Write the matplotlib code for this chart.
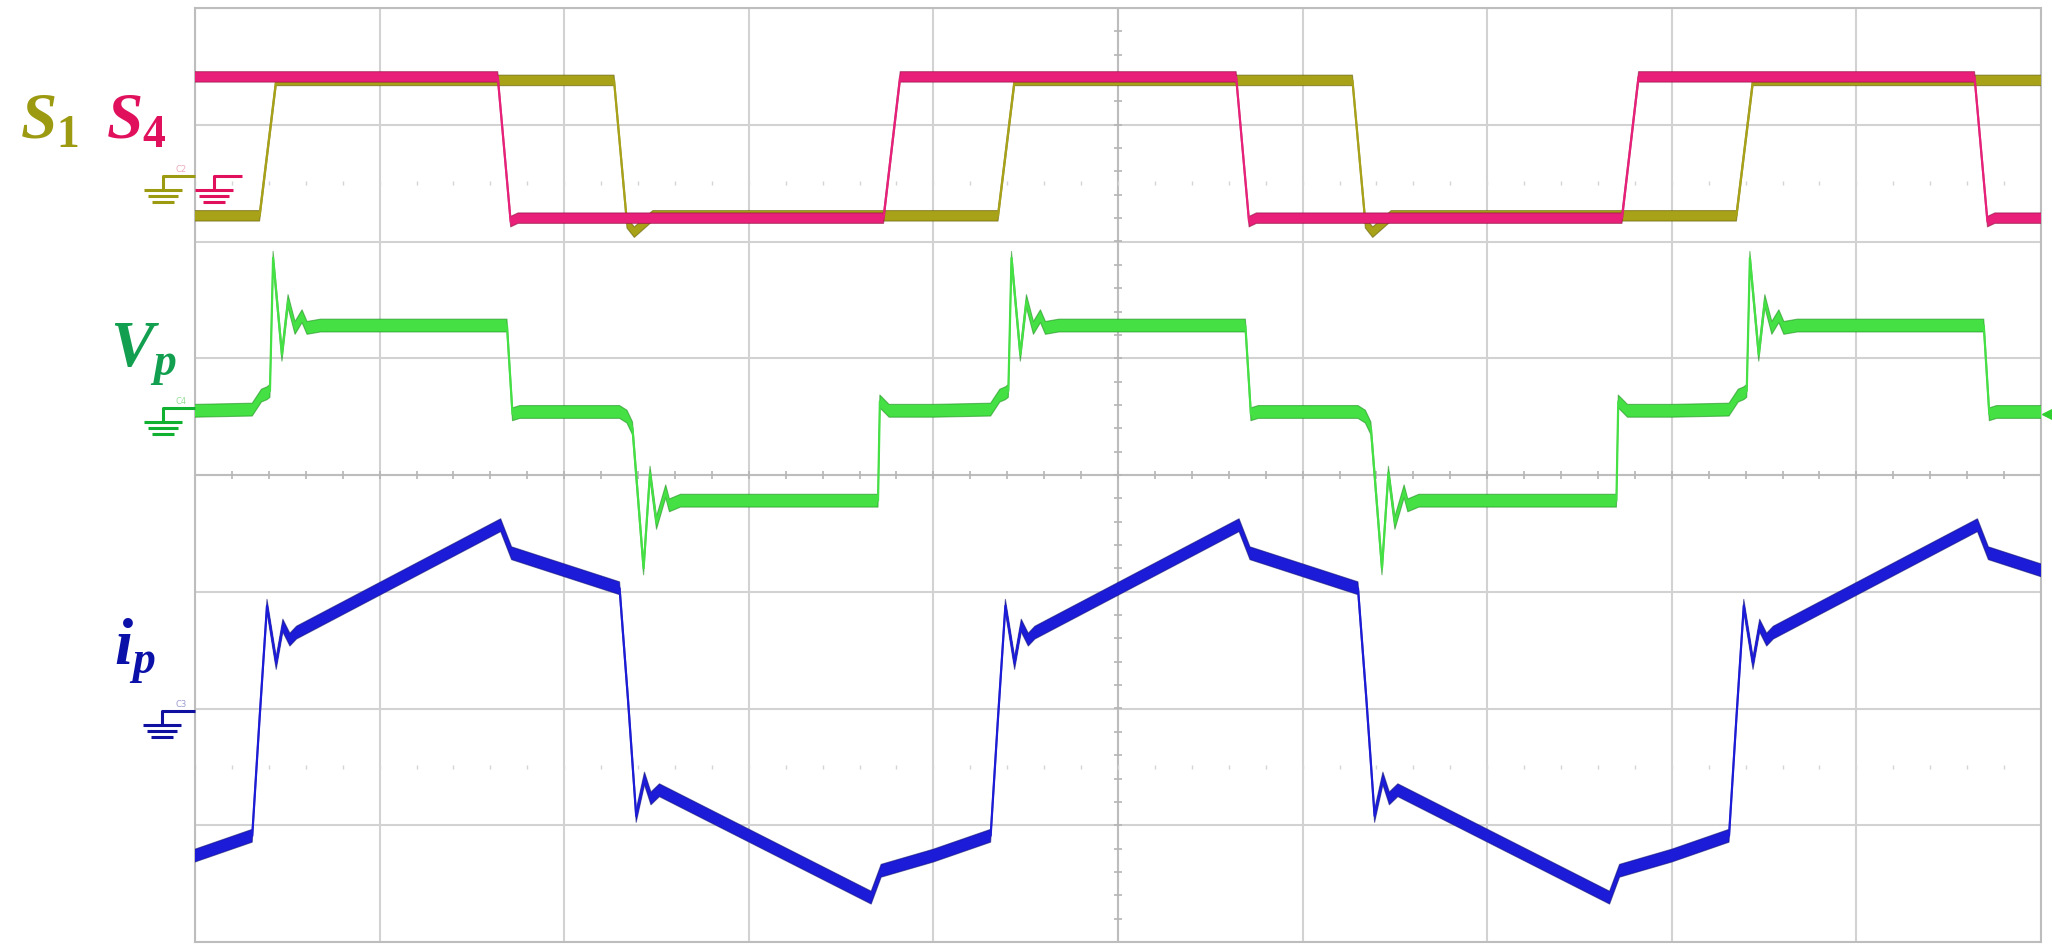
## Oscillogramme : S1, S4, Vp, ip (trois périodes)

import numpy as np
import matplotlib.pyplot as plt

plt.rcParams['mathtext.fontset'] = 'custom'
plt.rcParams['mathtext.it'] = 'Liberation Serif:italic:bold'
plt.rcParams['mathtext.rm'] = 'Liberation Serif:bold'

T = 4.0          # période en divisions
n_periodes = 3

# une période, temps et niveaux en divisions de l'écran
t_s1 = [0.0, 0.35, 0.44, 2.27, 2.34, 2.38, 2.48, 4.0]
v_s1 = [2.22, 2.22, 3.38, 3.38, 2.16, 2.08, 2.22, 2.22]

t_s4 = [0.0, 1.64, 1.71, 1.75, 3.73, 3.82, 4.0]
v_s4 = [3.41, 3.41, 2.17, 2.20, 2.20, 3.41, 3.41]

t_vp = [0.0, 0.31, 0.36, 0.39, 0.406, 0.423, 0.471, 0.504, 0.542, 0.58, 0.607, 0.68,
        1.69, 1.72, 1.76, 2.30, 2.34, 2.37, 2.43, 2.465, 2.50, 2.55, 2.57, 2.63,
        3.70, 3.71, 3.76, 4.0]
v_vp = [0.55, 0.56, 0.68, 0.70, 0.72, 1.86, 1.03, 1.49, 1.26, 1.36, 1.26, 1.28,
        1.28, 0.52, 0.54, 0.54, 0.50, 0.40, -0.80, 0.02, -0.41, -0.14, -0.26, -0.22,
        -0.22, 0.63, 0.55, 0.55]

t_ip = [0.0, 0.31, 0.35, 0.39, 0.44, 0.476, 0.514, 0.55, 1.656, 1.715, 2.30, 2.345,
        2.39, 2.435, 2.47, 2.516, 3.663, 3.717, 4.0]
v_ip = [-3.26, -3.09, -2.08, -1.12, -1.61, -1.29, -1.41, -1.35, -0.43, -0.67, -0.97, -1.91,
        -2.92, -2.60, -2.77, -2.70, -3.62, -3.39, -3.26]

# niveaux de masse des voies
gnd_s = 2.56
gnd_vp = 0.57
gnd_ip = -2.02
trig_vp = 0.52


def tile(t, v):
    t = np.asarray(t)
    tt = np.concatenate([t + k * T for k in range(n_periodes)])
    return tt, np.tile(v, n_periodes)


def trace(ax, t, v, color, edge, half, z):
    t, v = tile(t, v)
    ax.fill_between(t, v - half, v + half, color=color, lw=0, zorder=z)
    ax.plot(t, v + half, color=edge, lw=0.8, alpha=0.55, zorder=z)
    ax.plot(t, v - half, color=edge, lw=0.8, alpha=0.55, zorder=z)
    ax.plot(t, v, color=color, lw=1.6, zorder=z)


W, H = 2052, 944
dx = 10 / 1846
dy = 8 / 934


def ground(ax, y0, stem, lead, color):
    xs = stem * dx
    kw = dict(color=color, lw=2.2, clip_on=False, solid_capstyle='butt', zorder=10)
    ax.plot([lead * dx, xs, xs], [y0, y0, y0 - 14 * dy], **kw)
    for dd, hw in [(14, 19), (20, 15), (26, 11)]:
        ax.plot([xs - hw * dx, xs + hw * dx], [y0 - dd * dy] * 2, **kw)


fig = plt.figure(figsize=(W / 100, H / 100), dpi=100)
ax = fig.add_axes([195 / W, 2 / H, 1846 / W, 934 / H])
ax.set_xlim(0, 10)
ax.set_ylim(-4, 4)
ax.set_xticks(np.arange(0, 11))
ax.set_yticks(np.arange(-4, 5))
ax.grid(True, color='#d2d2d2', lw=1.5)
ax.tick_params(length=0, labelbottom=False, labelleft=False)
for s in ax.spines.values():
    s.set_color('#bdbdbd')
    s.set_linewidth(1.5)

# axes centraux gradués + lignes pointillées
xm = np.arange(0, 10.01, 0.2)
ym = np.arange(-4, 4.01, 0.2)
ax.axhline(0, color='#bdbdbd', lw=1.5)
ax.axvline(5, color='#bdbdbd', lw=1.5)
ax.plot(xm, np.zeros_like(xm), ls='none', marker='|', ms=6, mew=1.2, color='#b5b5b5')
ax.plot(np.full_like(ym, 5), ym, ls='none', marker='_', ms=6, mew=1.2, color='#b5b5b5')
for yy in (2.5, -2.5):
    ax.plot(xm, np.full_like(xm, yy), ls='none', marker='|', ms=3, mew=1, color='#d5d5d5')

trace(ax, t_s1, v_s1, '#a8a218', '#5e5800', 0.045, 3)
trace(ax, t_s4, v_s4, '#e8207a', '#8a0c3c', 0.045, 4)
trace(ax, t_vp, v_vp, '#44e044', '#1a8a1a', 0.055, 5)
trace(ax, t_ip, v_ip, '#1c1cd8', '#0a0a70', 0.055, 6)

ground(ax, gnd_s, -32, 0, '#9c9a10')
ground(ax, gnd_s, 19, 47, '#e0105c')
ground(ax, gnd_vp, -32, 0, '#10b030')
ground(ax, gnd_ip, -33, 0, '#1010a0')
ax.plot(10 + 7 * dx, trig_vp, marker='<', ms=9, color='#30d030', clip_on=False, zorder=10)

fs = 47
fig.text(20 / W, 1 - 138 / H, r'$S_{1}$', color='#9c9a10', fontsize=fs, va='baseline')
fig.text(106 / W, 1 - 138 / H, r'$S_{4}$', color='#e0105c', fontsize=fs, va='baseline')
fig.text(110 / W, 1 - 367 / H, r'$V_{p}$', color='#12a050', fontsize=fs, va='baseline')
fig.text(114 / W, 1 - 665 / H, r'$i_{p}$', color='#0a10a8', fontsize=fs, va='baseline')

fig.text(176 / W, 1 - 172 / H, 'C2', color='#e07090', fontsize=6, alpha=0.6)
fig.text(176 / W, 1 - 404 / H, 'C4', color='#70d070', fontsize=6, alpha=0.7)
fig.text(176 / W, 1 - 707 / H, 'C3', color='#7070c0', fontsize=6, alpha=0.7)

fig.savefig('out.png', dpi=100)
